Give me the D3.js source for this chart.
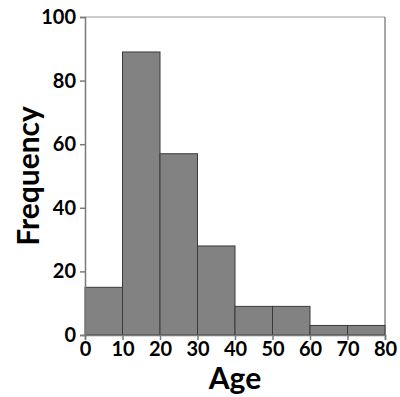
<!DOCTYPE html>
<html>
<head>
<meta charset="utf-8">
<script src="https://cdn.jsdelivr.net/npm/d3@7"></script>
<style>
  body { margin: 0; background: #fff; }
  text { font-family: Lato, "Open Sans", sans-serif; font-weight: bold; fill: #000; }
</style>
</head>
<body>
<script>
// histogram bins (age ranges) and counts
const binStarts = [0, 10, 20, 30, 40, 50, 60, 70];
const binWidth = 10;
const counts = [15, 89, 57, 28, 9, 9, 3, 3];
const xTicks = [0, 10, 20, 30, 40, 50, 60, 70, 80];
const yTicks = [0, 20, 40, 60, 80, 100];

const width = 400, height = 397;
const margin = {top: 17, right: 15, bottom: 62, left: 85};

const svg = d3.select('body').append('svg')
  .attr('width', width)
  .attr('height', height);

const x = d3.scaleLinear().domain([0, 80]).range([margin.left, width - margin.right]);
const y = d3.scaleLinear().domain([0, 100]).range([height - margin.bottom, margin.top]);

// frame: top light, right darker
svg.append('line')
  .attr('x1', x(0)).attr('x2', x(80))
  .attr('y1', y(100)).attr('y2', y(100))
  .attr('stroke', '#bdbdbd').attr('stroke-width', 1.5);
svg.append('line')
  .attr('x1', x(80)).attr('x2', x(80))
  .attr('y1', y(100)).attr('y2', y(0))
  .attr('stroke', '#8a8a8a').attr('stroke-width', 1.5);

svg.selectAll('.bar')
    .data(counts)
  .enter().append('rect')
    .attr('class', 'bar')
    .attr('x', (d, i) => x(binStarts[i]))
    .attr('y', d => y(d))
    .attr('width', (d, i) => x(binStarts[i] + binWidth) - x(binStarts[i]))
    .attr('height', d => y(0) - y(d))
    .attr('fill', '#828282')
    .attr('stroke', '#3a3a3a')
    .attr('stroke-width', 1);

const xAxis = svg.append('g')
  .attr('transform', `translate(0,${y(0)})`)
  .call(d3.axisBottom(x).tickValues(xTicks).tickSize(5).tickPadding(2));

const yAxis = svg.append('g')
  .attr('transform', `translate(${x(0)},0)`)
  .call(d3.axisLeft(y).tickValues(yTicks).tickSize(5).tickPadding(4));

[xAxis, yAxis].forEach(g => {
  g.select('.domain').attr('stroke', '#7a7a7a').attr('stroke-width', 1.5);
  g.selectAll('.tick line').attr('stroke', '#7a7a7a').attr('stroke-width', 1.5);
  g.selectAll('.tick text')
    .style('font-family', 'Lato, "Open Sans", sans-serif')
    .style('font-weight', 'bold')
    .style('font-size', '20px')
    .attr('fill', '#000');
});

svg.append('text')
  .attr('x', (x(0) + x(80)) / 2)
  .attr('y', 389)
  .attr('text-anchor', 'middle')
  .style('font-size', '30px')
  .text('Age');

svg.append('text')
  .attr('transform', `translate(39,${(y(0) + y(100)) / 2}) rotate(-90)`)
  .attr('text-anchor', 'middle')
  .style('font-size', '30px')
  .text('Frequency');
</script>
</body>
</html>
